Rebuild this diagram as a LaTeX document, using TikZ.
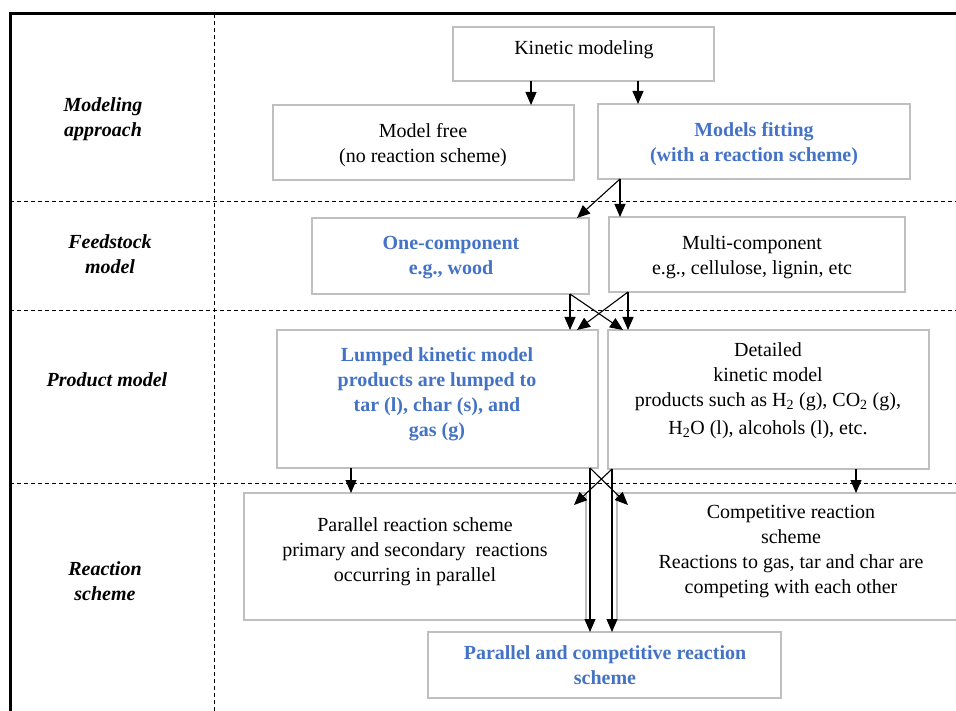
\documentclass[tikz,border=0pt]{standalone}
\usepackage{fontspec}
\setmainfont{Liberation Serif}
\usetikzlibrary{arrows.meta}
\definecolor{boxgray}{RGB}{191,191,191}
\definecolor{hlblue}{RGB}{68,114,196}
\begin{document}
\begin{tikzpicture}[x=1pt,y=-1pt,
 box/.style={draw=boxgray, line width=1.3pt, inner sep=0pt, outer sep=0pt},
 txt/.style={align=center, inner sep=0pt, font=\fontsize{20}{25}\selectfont},
 hl/.style={align=center, inner sep=0pt, text=hlblue, font=\fontsize{20}{25}\selectfont\bfseries},
 lab/.style={align=center, inner sep=0pt, font=\fontsize{20}{25}\selectfont\bfseries\itshape},
 arr/.style={-{Triangle[length=13pt,width=11pt]}, line width=1.1pt},
 sep/.style={dash pattern=on 4pt off 3pt, line width=0.9pt}]
\useasboundingbox (0,0) rectangle (956,711);
\clip (0,0) rectangle (956,711);

% frame and separators
\draw[line width=3pt] (10,711) -- (10,14) -- (960,14);
\draw[sep] (214,14) -- (214,711);
\draw[sep] (10,201) -- (956,201);
\draw[sep] (10,310) -- (956,310);
\draw[sep] (10,483) -- (956,483);

% row labels
\node[lab] (l1) at (103,119) {Modeling\\approach};
\node[lab] (l2) at (110,254) {Feedstock\\model};
\node[lab] (l3) at (107,380) {Product model};
\node[lab] (l4) at (105,581) {Reaction\\scheme};

% boxes
\node[box, minimum width=261pt, minimum height=54pt] (kin) at (583.5,54) {};
\node[box, minimum width=301pt, minimum height=75pt] (mf) at (423.5,142.5) {};
\node[box, minimum width=312pt, minimum height=75pt] (mfit) at (754,141.5) {};
\node[box, minimum width=277pt, minimum height=76pt] (one) at (450.5,256) {};
\node[box, minimum width=296pt, minimum height=75pt] (multi) at (757,254.5) {};
\node[box, minimum width=321pt, minimum height=138pt] (lump) at (437.5,399) {};
\node[box, minimum width=321pt, minimum height=139pt] (det) at (768.5,399.5) {};
\node[box, minimum width=342pt, minimum height=127pt] (par) at (415,556.5) {};
\node[box, minimum width=348pt, minimum height=127pt] (comp) at (791,556.5) {};
\node[box, minimum width=353pt, minimum height=66pt] (pc) at (604.5,665) {};

% texts
\node[txt] (tkin) at (584,50) {Kinetic modeling};
\node[txt] (tmf) at (423,145) {Model free\\(no reaction scheme)};
\node[hl] (tmfit) at (754,144) {Models fitting\\(with a reaction scheme)};
\node[hl] (tone) at (451,258) {One-component\\e.g., wood};
\node[txt] (tmulti) at (752,257) {Multi-component\\e.g., cellulose, lignin, etc};
\node[hl] (tlump) at (437,394.5) {Lumped kinetic model\\products are lumped to\\tar (l), char (s), and\\gas (g)};
\node[txt] (tdet) at (768,391) {Detailed\\kinetic model\\products such as H\textsubscript{2} (g), CO\textsubscript{2} (g),\\[3pt]H\textsubscript{2}O (l), alcohols (l), etc.};
\node[txt] (tpar) at (415,552) {Parallel reaction scheme\\primary and secondary \ reactions\\occurring in parallel};
\node[txt] (tcomp) at (791,552) {Competitive reaction\\scheme\\Reactions to gas, tar and char are\\competing with each other};
\node[hl] (tpc) at (605,665) {Parallel and competitive reaction\\scheme};

% connectors
\draw[arr] ([xshift=78pt]kin.south west) -- ([xshift=258pt]mf.north west);
\draw[arr] ([xshift=185pt]kin.south west) -- ([xshift=40pt]mfit.north west);
\draw[arr] ([xshift=22pt]mfit.south west) -- ([xshift=265pt]one.north west);
\draw[arr] ([xshift=22pt]mfit.south west) -- ([xshift=11pt]multi.north west);
\draw[arr] ([xshift=258pt]one.south west) -- ([xshift=293pt]lump.north west);
\draw[arr] ([xshift=258pt]one.south west) -- ([xshift=15pt]det.north west);
\draw[arr] ([xshift=19pt]multi.south west) -- ([xshift=300pt]lump.north west);
\draw[arr] ([xshift=19pt]multi.south west) -- ([xshift=20pt]det.north west);
\draw[arr] ([xshift=74pt]lump.south west) -- ([xshift=107pt]par.north west);
\draw[arr] ([xshift=248pt]det.south west) -- ([xshift=239pt]comp.north west);
\draw[arr] ([xshift=313pt]lump.south west) -- ([shift={(11,12)}]comp.north west);
\draw[arr] ([xshift=4pt]det.south west) -- ([shift={(-12,12)}]par.north east);
\draw[arr] ([xshift=313pt]lump.south west) -- ([xshift=162pt]pc.north west);
\draw[arr] ([xshift=4pt]det.south west) -- ([xshift=184pt]pc.north west);
\end{tikzpicture}
\end{document}
